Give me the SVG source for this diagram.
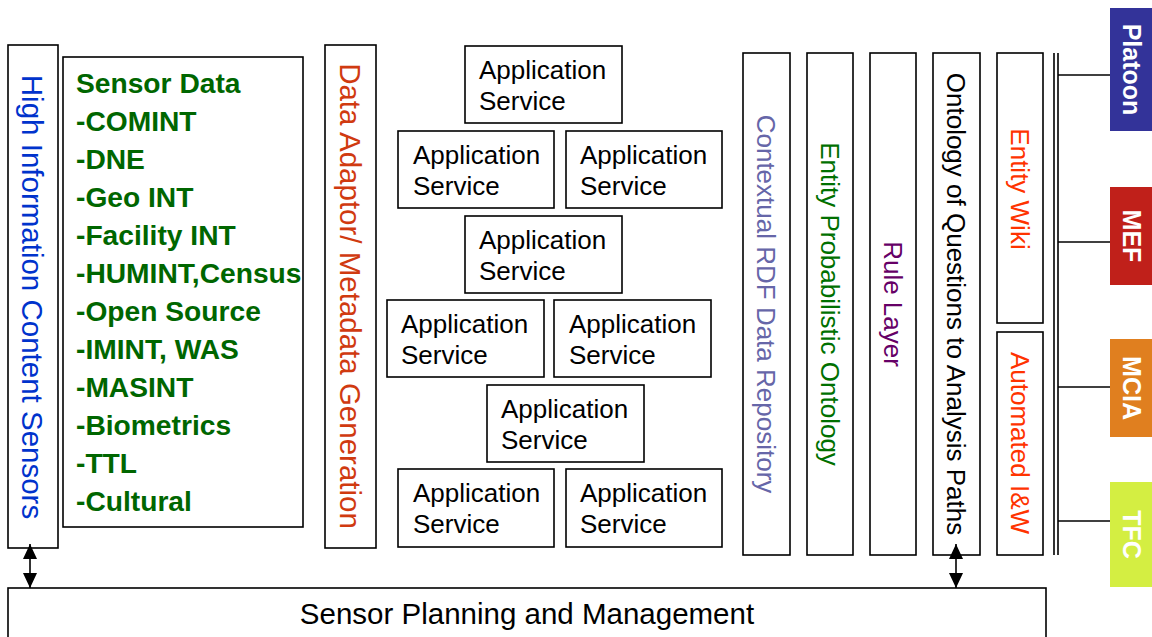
<svg xmlns="http://www.w3.org/2000/svg" width="1152" height="637" viewBox="0 0 1152 637">
<style>
  .box{fill:#fff;stroke:#000;stroke-width:1.6}
  .t{font-family:"Liberation Sans",Arial,sans-serif}
  .vt{font-family:"Liberation Sans",Arial,sans-serif;font-size:26px;text-anchor:middle}
  .big{font-size:29.5px}
  .as{font-family:"Liberation Sans",Arial,sans-serif;font-size:26px;fill:#000}
  .sd{font-family:"Liberation Sans",Arial,sans-serif;font-size:28.2px;font-weight:bold;fill:#006600}
  .tag{font-family:"Liberation Sans",Arial,sans-serif;font-size:25px;font-weight:bold;fill:#fff;text-anchor:middle}
  .ln{stroke:#000;stroke-width:1.6;fill:none}
</style>
<defs>
  <marker id="ah" markerUnits="userSpaceOnUse" markerWidth="15" markerHeight="14" refX="15" refY="7" orient="auto-start-reverse">
    <path d="M0,0 L15,7 L0,14 z" fill="#000"/>
  </marker>
</defs>
<rect width="1152" height="637" fill="#fff"/>

<g id="high-info">
  <rect class="box" x="8" y="45" width="50" height="503"/>
  <text class="vt big" fill="#0033CC" transform="translate(33,297) rotate(90)" y="10.6">High Information Content Sensors</text>
</g>

<g id="sensor-data">
  <rect class="box" x="63" y="57" width="240" height="470"/>
  <text class="sd" x="76" y="93">Sensor Data</text>
  <text class="sd" x="76" y="131">-COMINT</text>
  <text class="sd" x="76" y="169">-DNE</text>
  <text class="sd" x="76" y="207">-Geo INT</text>
  <text class="sd" x="76" y="245">-Facility INT</text>
  <text class="sd" x="76" y="283">-HUMINT,Census</text>
  <text class="sd" x="76" y="321">-Open Source</text>
  <text class="sd" x="76" y="359">-IMINT, WAS</text>
  <text class="sd" x="76" y="397">-MASINT</text>
  <text class="sd" x="76" y="435">-Biometrics</text>
  <text class="sd" x="76" y="473">-TTL</text>
  <text class="sd" x="76" y="511">-Cultural</text>
</g>

<g id="data-adaptor">
  <rect class="box" x="325" y="45" width="51" height="503"/>
  <text class="vt big" fill="#D03A10" transform="translate(350.5,296) rotate(90)" y="10.6">Data Adaptor/ Metadata Generation</text>
</g>

<g id="app1"><rect class="box" x="465" y="46" width="157" height="77"/><text class="as" x="479" y="79">Application</text><text class="as" x="479" y="110">Service</text></g>
<g id="app2"><rect class="box" x="398" y="131" width="156" height="77"/><text class="as" x="413" y="164">Application</text><text class="as" x="413" y="195">Service</text></g>
<g id="app3"><rect class="box" x="566" y="131" width="156" height="77"/><text class="as" x="580" y="164">Application</text><text class="as" x="580" y="195">Service</text></g>
<g id="app4"><rect class="box" x="465" y="216" width="157" height="77"/><text class="as" x="479" y="249">Application</text><text class="as" x="479" y="280">Service</text></g>
<g id="app5"><rect class="box" x="387" y="300" width="157" height="77"/><text class="as" x="401" y="333">Application</text><text class="as" x="401" y="364">Service</text></g>
<g id="app6"><rect class="box" x="554" y="300" width="157" height="77"/><text class="as" x="569" y="333">Application</text><text class="as" x="569" y="364">Service</text></g>
<g id="app7"><rect class="box" x="487" y="385" width="157" height="77"/><text class="as" x="501" y="418">Application</text><text class="as" x="501" y="449">Service</text></g>
<g id="app8"><rect class="box" x="398" y="469" width="156" height="78"/><text class="as" x="413" y="502">Application</text><text class="as" x="413" y="533">Service</text></g>
<g id="app9"><rect class="box" x="566" y="469" width="156" height="78"/><text class="as" x="580" y="502">Application</text><text class="as" x="580" y="533">Service</text></g>

<g id="contextual-rdf">
  <rect class="box" x="743" y="53" width="47" height="502"/>
  <text class="vt" fill="#6666A8" transform="translate(766.5,304) rotate(90)" y="9.4">Contextual RDF Data Repository</text>
</g>
<g id="entity-prob">
  <rect class="box" x="807" y="53" width="46" height="502"/>
  <text class="vt" fill="#007000" transform="translate(830,304) rotate(90)" y="9.4">Entity Probabilistic Ontology</text>
</g>
<g id="rule-layer">
  <rect class="box" x="870" y="53" width="46" height="502"/>
  <text class="vt" fill="#660066" transform="translate(893,304) rotate(90)" y="9.4">Rule Layer</text>
</g>
<g id="ontology-questions">
  <rect class="box" x="933" y="53" width="47" height="502"/>
  <text class="vt" fill="#000" transform="translate(956.5,304) rotate(90)" y="9.4">Ontology of Questions to Analysis Paths</text>
</g>
<g id="entity-wiki">
  <rect class="box" x="997" y="53" width="46" height="270"/>
  <text class="vt" fill="#FF3300" transform="translate(1020,189) rotate(90)" y="9.4">Entity Wiki</text>
</g>
<g id="automated-iw">
  <rect class="box" x="997" y="332" width="46" height="223"/>
  <text class="vt" fill="#FF3300" transform="translate(1020,443) rotate(90)" y="9.4">Automated I&amp;W</text>
</g>

<g id="platoon">
  <rect x="1110" y="8" width="42" height="123" fill="#333399"/>
  <text class="tag" transform="translate(1132,69.5) rotate(90)" y="9">Platoon</text>
</g>
<g id="mef">
  <rect x="1110" y="187" width="42" height="98" fill="#C0201A"/>
  <text class="tag" transform="translate(1132,236) rotate(90)" y="9">MEF</text>
</g>
<g id="mcia">
  <rect x="1110" y="339" width="42" height="98" fill="#E07F1F"/>
  <text class="tag" transform="translate(1132,388) rotate(90)" y="9">MCIA</text>
</g>
<g id="tfc">
  <rect x="1110" y="482" width="42" height="105" fill="#D4EE42"/>
  <text class="tag" transform="translate(1132,534.5) rotate(90)" y="9">TFC</text>
</g>

<g id="sensor-planning">
  <rect class="box" x="8" y="588" width="1038" height="60"/>
  <text class="t" x="527" y="624" font-size="29.5" text-anchor="middle" fill="#000">Sensor Planning and Management</text>
</g>

<g id="connectors">
  <line class="ln" x1="30" y1="544" x2="30" y2="588" marker-start="url(#ah)" marker-end="url(#ah)"/>
  <line class="ln" x1="956" y1="544" x2="956" y2="588" marker-start="url(#ah)" marker-end="url(#ah)"/>
  <line class="ln" x1="1054" y1="53" x2="1054" y2="555"/>
  <line class="ln" x1="1058" y1="53" x2="1058" y2="555"/>
  <line class="ln" x1="1058" y1="75" x2="1110" y2="75"/>
  <line class="ln" x1="1058" y1="242" x2="1110" y2="242"/>
  <line class="ln" x1="1058" y1="387" x2="1110" y2="387"/>
  <line class="ln" x1="1058" y1="521" x2="1110" y2="521"/>
</g>
</svg>
